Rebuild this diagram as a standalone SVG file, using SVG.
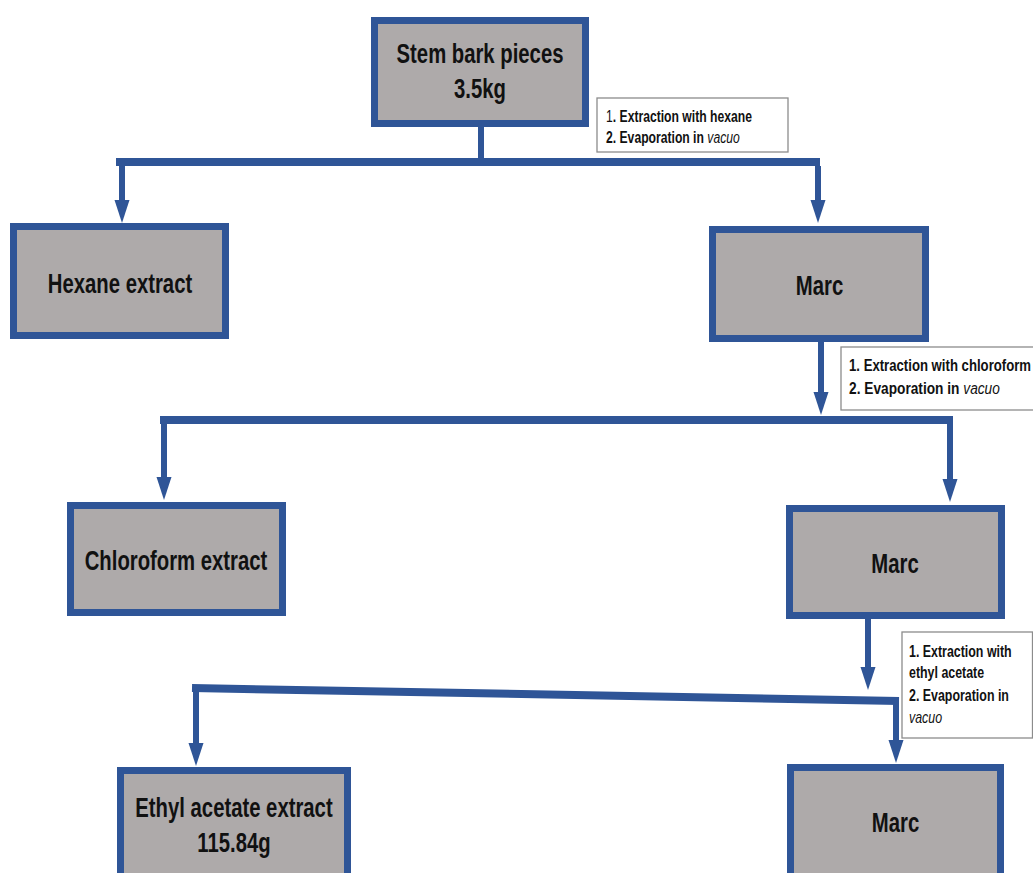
<svg xmlns="http://www.w3.org/2000/svg" width="1033" height="873" viewBox="0 0 1033 873">
<defs>
<style>
.box{fill:#AEAAAA;stroke:#2F5597;stroke-width:7}
.lbl{fill:#fff;stroke:#8c8c8c;stroke-width:1.3}
.bt{font-family:"Liberation Sans",Arial,sans-serif;font-weight:bold;font-size:28px;fill:#111;text-anchor:middle}
.lt{font-family:"Liberation Sans",Arial,sans-serif;font-weight:bold;fill:#111}
.it{font-style:italic;font-weight:normal}
.nw{font-weight:normal}
.c{stroke:#2F5597;stroke-width:6;fill:none}
.bar{stroke:#2F5597;stroke-width:8;fill:none}
</style>
<marker id="ah" markerUnits="userSpaceOnUse" viewBox="0 -8 23 16" markerWidth="23" markerHeight="16" refX="8" refY="0" orient="auto"><path d="M0,-7.5 L23,0 L0,7.5 Z" fill="#2F5597"/></marker>
</defs>
<rect width="1033" height="873" fill="#fff"/>
<g id="connectors">
<path class="c" d="M481,127 V162"/>
<path class="bar" d="M116,162 H820"/>
<path class="c" d="M122,162 V208" marker-end="url(#ah)"/>
<path class="c" d="M818,166 V208" marker-end="url(#ah)"/>
<path class="c" d="M821,342 V400" marker-end="url(#ah)"/>
<path class="bar" d="M160,420 H953"/>
<path class="c" d="M164,420 V485" marker-end="url(#ah)"/>
<path class="c" d="M950,420 V487" marker-end="url(#ah)"/>
<path class="c" d="M868,619 V675" marker-end="url(#ah)"/>
<path class="bar" d="M192,688 L899,701"/>
<path class="c" d="M196,688 V751" marker-end="url(#ah)"/>
<path class="c" d="M896,701 V748" marker-end="url(#ah)"/>
</g>
<g id="label1">
<rect class="lbl" x="597" y="98" width="191" height="54"/>
<text class="lt" font-size="16" transform="translate(606,122) scale(0.76,1)"><tspan class="nw">1</tspan>. Extraction with hexane</text>
<text class="lt" font-size="16" transform="translate(606,143) scale(0.76,1)">2. Evaporation in <tspan class="it">vacuo</tspan></text>
</g>
<g id="label2">
<rect class="lbl" x="841" y="347" width="200" height="63"/>
<text class="lt" font-size="17" transform="translate(849,371) scale(0.775,1)">1. Extraction with chloroform</text>
<text class="lt" font-size="17" transform="translate(849,394) scale(0.807,1)">2. Evaporation in <tspan class="it">vacuo</tspan></text>
</g>
<g id="label3">
<rect class="lbl" x="902" y="632" width="130.5" height="106"/>
<text class="lt" font-size="17" transform="translate(909,657) scale(0.73,1)">1. Extraction with</text>
<text class="lt" font-size="17" transform="translate(909,678) scale(0.73,1)">ethyl acetate</text>
<text class="lt" font-size="17" transform="translate(909,701) scale(0.73,1)">2. Evaporation in</text>
<text class="lt it" font-size="17" transform="translate(909,723) scale(0.73,1)">vacuo</text>
</g>
<g id="stem">
<rect class="box" x="374.5" y="20.5" width="211" height="103"/>
<text class="bt" transform="translate(480,63) scale(0.725,1)">Stem bark pieces</text>
<text class="bt" transform="translate(480,98) scale(0.725,1)">3.5kg</text>
</g>
<g id="hexane">
<rect class="box" x="13.5" y="226.5" width="212" height="109"/>
<text class="bt" transform="translate(120,293) scale(0.725,1)">Hexane extract</text>
</g>
<g id="marc1">
<rect class="box" x="712.5" y="229.5" width="213" height="109"/>
<text class="bt" transform="translate(819.5,295) scale(0.725,1)">Marc</text>
</g>
<g id="chloroform">
<rect class="box" x="70.5" y="505.5" width="212" height="107"/>
<text class="bt" transform="translate(176,570) scale(0.725,1)">Chloroform extract</text>
</g>
<g id="marc2">
<rect class="box" x="789.5" y="508.5" width="212" height="107"/>
<text class="bt" transform="translate(895,573) scale(0.725,1)">Marc</text>
</g>
<g id="ethyl">
<rect class="box" x="120.5" y="770.5" width="227" height="120"/>
<text class="bt" transform="translate(234,817) scale(0.725,1)">Ethyl acetate extract</text>
<text class="bt" transform="translate(234,852) scale(0.725,1)">115.84g</text>
</g>
<g id="marc3">
<rect class="box" x="790.5" y="767.5" width="210" height="120"/>
<text class="bt" transform="translate(895.5,832) scale(0.725,1)">Marc</text>
</g>
</svg>
